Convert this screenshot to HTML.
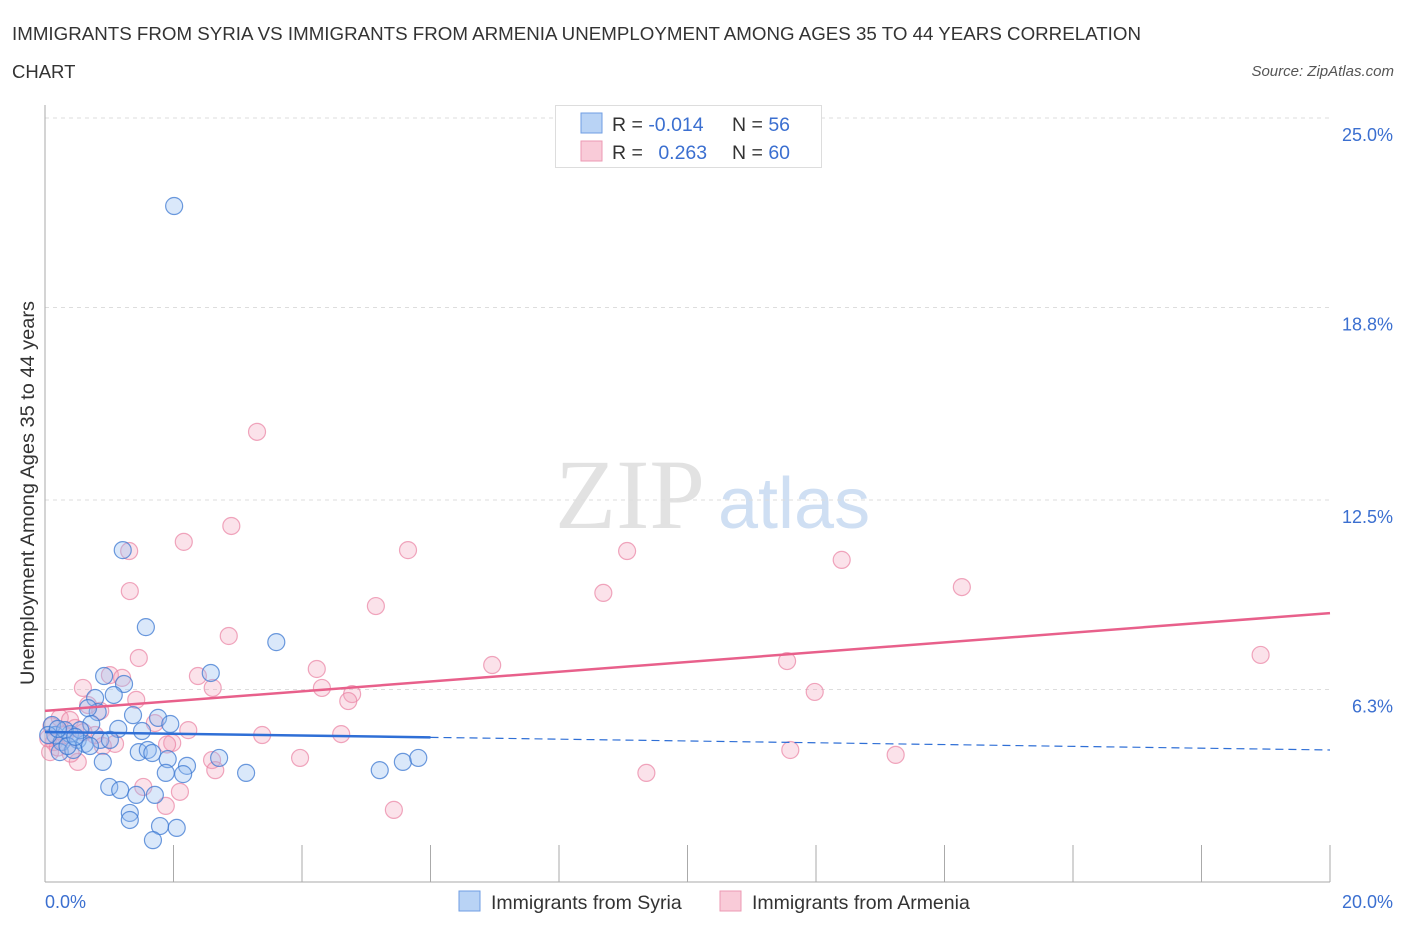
<!DOCTYPE html>
<html><head><meta charset="utf-8"><style>
body{margin:0;background:#fff;font-family:"Liberation Sans",sans-serif;}
svg{display:block}
</style></head><body>
<svg id="chart" width="1406" height="930" xmlns="http://www.w3.org/2000/svg">
<text x="12" y="40" font-size="18.5" fill="#333" textLength="1129" lengthAdjust="spacingAndGlyphs">IMMIGRANTS FROM SYRIA VS IMMIGRANTS FROM ARMENIA UNEMPLOYMENT AMONG AGES 35 TO 44 YEARS CORRELATION</text>
<text x="12" y="78" font-size="18.5" fill="#333">CHART</text>
<text x="1394" y="76" font-size="15" fill="#555" font-style="italic" text-anchor="end">Source: ZipAtlas.com</text>
<text x="555" y="528" font-size="100" fill="#e2e2e2" font-family="Liberation Serif,serif">ZIP</text>
<text x="718" y="528" font-size="72" fill="#cfdff3">atlas</text>
<g id="grid"></g>
<g id="axes"></g>
<g id="pts"></g>
<g id="lines"></g>
<text transform="translate(34,493) rotate(-90)" font-size="19" fill="#333" text-anchor="middle" textLength="384" lengthAdjust="spacingAndGlyphs">Unemployment Among Ages 35 to 44 years</text>
<text x="45" y="908" font-size="18" fill="#3b6fd0">0.0%</text>
<text x="1393" y="908" font-size="18" fill="#3b6fd0" text-anchor="end">20.0%</text>
<g>
<rect x="555.5" y="105.5" width="266" height="62" fill="#fff" stroke="#ddd"/>
<rect x="581" y="113" width="21" height="20" fill="#b9d3f5" stroke="#6f9ee3"/>
<rect x="581" y="141" width="21" height="20" fill="#f9cbd8" stroke="#ec9ab3"/>
<text x="612" y="131" font-size="19.5" fill="#333">R = <tspan fill="#3b6fd0">-0.014</tspan></text>
<text x="732" y="131" font-size="19.5" fill="#333">N = <tspan fill="#3b6fd0">56</tspan></text>
<text x="612" y="159" font-size="19.5" fill="#333">R = <tspan fill="#3b6fd0" dx="10">0.263</tspan></text>
<text x="732" y="159" font-size="19.5" fill="#333">N = <tspan fill="#3b6fd0">60</tspan></text>
</g>
<g>
<rect x="459" y="891" width="21" height="20" fill="#b9d3f5" stroke="#6f9ee3"/>
<text x="491" y="909" font-size="19.5" fill="#333">Immigrants from Syria</text>
<rect x="720" y="891" width="21" height="20" fill="#f9cbd8" stroke="#ec9ab3"/>
<text x="752" y="909" font-size="19.5" fill="#333">Immigrants from Armenia</text>
</g>
</svg>
<script>
const yTicks=[6.3,12.5,18.8,25.0];
const yTickLabels=["6.3%","12.5%","18.8%","25.0%"];
const xTickCount=10;
const syriaX=[2.01,1.21,1.57,3.60,2.58,0.92,1.23,1.07,0.78,0.82,0.67,1.37,1.76,1.95,0.72,1.14,1.51,0.11,0.16,0.26,0.39,0.51,0.62,0.23,0.44,0.86,1.46,1.60,1.67,1.91,2.21,2.71,0.90,1.88,2.15,3.13,5.21,5.57,5.81,1.00,1.17,1.42,1.71,1.32,1.32,1.79,2.05,1.68,0.05,0.31,0.55,0.70,1.01,0.20,0.35,0.47];
const syriaY=[22.12,10.86,8.34,7.85,6.84,6.74,6.48,6.12,6.02,5.56,5.69,5.46,5.37,5.17,5.17,5.01,4.94,5.14,4.81,4.58,4.84,4.65,4.52,4.25,4.32,4.65,4.25,4.32,4.22,4.02,3.80,4.06,3.93,3.57,3.53,3.57,3.66,3.93,4.06,3.11,3.01,2.85,2.85,2.26,2.03,1.83,1.77,1.37,4.81,4.97,4.97,4.45,4.65,5.01,4.45,4.75];
const armX=[3.30,2.90,2.16,1.31,5.65,9.06,12.40,14.27,1.32,8.69,5.15,2.86,1.46,18.92,6.96,11.55,4.23,2.38,1.01,1.20,0.59,2.61,4.31,11.98,4.78,4.72,1.42,0.67,0.86,0.23,0.39,1.71,2.23,3.38,4.61,1.98,1.09,0.90,0.14,0.08,11.60,13.24,2.60,3.97,0.51,2.65,9.36,1.53,2.10,1.88,5.43,0.31,0.47,0.78,0.10,0.20,0.60,1.90,0.05,0.40];
const armY=[14.73,11.65,11.13,10.83,10.86,10.83,10.54,9.65,9.52,9.46,9.03,8.05,7.33,7.43,7.10,7.23,6.97,6.74,6.77,6.68,6.35,6.35,6.35,6.22,6.15,5.92,5.96,5.79,5.60,5.37,5.30,5.20,4.97,4.81,4.84,4.55,4.52,4.45,4.58,4.25,4.32,4.16,3.99,4.06,3.93,3.66,3.57,3.11,2.95,2.49,2.36,4.81,5.04,4.81,5.10,4.40,4.90,4.50,4.70,4.20];
const syriaTrend=[4.91,4.32];
const armTrend=[5.60,8.80];
const syriaSolidEnd=6;
const X=v=>45+v/20*1285, Y=v=>882-v*30.56;
const NS="http://www.w3.org/2000/svg";
function mk(tag,attrs,parent){const e=document.createElementNS(NS,tag);for(const k in attrs)e.setAttribute(k,attrs[k]);parent.appendChild(e);return e;}
const grid=document.getElementById('grid'),axes=document.getElementById('axes'),pts=document.getElementById('pts'),lines=document.getElementById('lines'),svg=document.getElementById('chart');
yTicks.forEach((t,i)=>{
 const l=mk('line',{x1:45,x2:1330,y1:Y(t),y2:Y(t),stroke:'#ddd','stroke-dasharray':'4,4'},grid);
 
 
 const tx=mk('text',{x:1393,y:Y(t)+23,'font-size':18,fill:'#3b6fd0','text-anchor':'end'},svg);
 tx.textContent=yTickLabels[i];
 
 
});
let a=mk('line',{x1:45,x2:45,y1:105,y2:882,stroke:'#aaa'},axes);


a=mk('line',{x1:45,x2:1330,y1:882,y2:882,stroke:'#aaa'},axes);


for(let i=1;i<=xTickCount;i++){
 const t=mk('line',{x1:X(i*2),x2:X(i*2),y1:845,y2:882,stroke:'#aaa'},axes);
 
 
}
armX.forEach((x,i)=>{
 const c=mk('circle',{cx:X(x),cy:Y(armY[i]),r:8.5,fill:'rgba(243,160,187,0.3)',stroke:'rgba(234,130,162,0.7)','stroke-width':1.2},pts);
 
 
});
syriaX.forEach((x,i)=>{
 const c=mk('circle',{cx:X(x),cy:Y(syriaY[i]),r:8.5,fill:'rgba(150,190,240,0.35)',stroke:'rgba(60,120,210,0.75)','stroke-width':1.2},pts);
 
 
});
let ln=mk('line',{x1:X(0),y1:Y(armTrend[0]),x2:X(20),y2:Y(armTrend[1]),stroke:'#e8608b','stroke-width':2.5},lines);


const sy=x=>syriaTrend[0]+(syriaTrend[1]-syriaTrend[0])*x/20;
ln=mk('line',{x1:X(0),y1:Y(sy(0)),x2:X(syriaSolidEnd),y2:Y(sy(syriaSolidEnd)),stroke:'#2f6fd6','stroke-width':2.5},lines);


ln=mk('line',{x1:X(syriaSolidEnd),y1:Y(sy(syriaSolidEnd)),x2:X(20),y2:Y(sy(20)),stroke:'#2f6fd6','stroke-width':1.2,'stroke-dasharray':'8,5'},lines);


</script>
</body></html>
